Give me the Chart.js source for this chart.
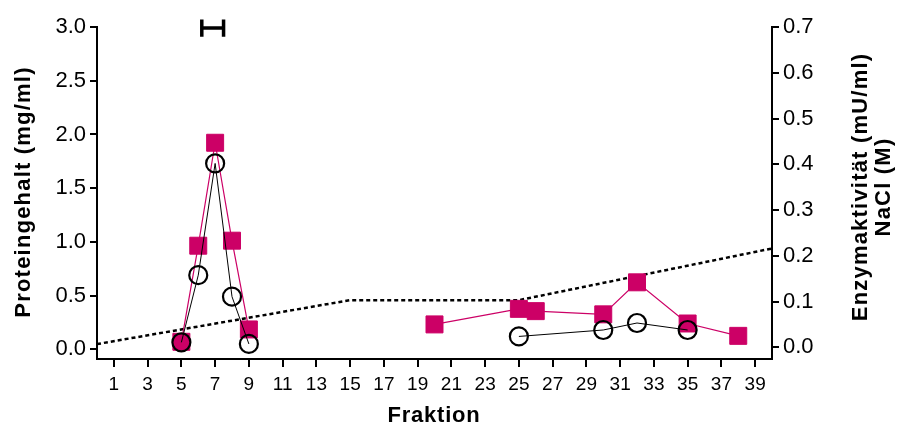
<!DOCTYPE html>
<html>
<head>
<meta charset="utf-8">
<script src="https://cdn.jsdelivr.net/npm/chart.js@4.4.1/dist/chart.umd.min.js"></script>
<style>
  body { margin: 0; background: #fff; }
  #wrap { width: 897px; height: 426px; position: relative; }
</style>
</head>
<body>
<div id="wrap"><canvas id="chart_fractions"></canvas></div>
<script>
// Data
const xTicks = [1, 3, 5, 7, 9, 11, 13, 15, 17, 19, 21, 23, 25, 27, 29, 31, 33, 35, 37, 39];
const leftTicks = [0, 0.5, 1.0, 1.5, 2.0, 2.5, 3.0];
const rightTicks = [0, 0.1, 0.2, 0.3, 0.4, 0.5, 0.6, 0.7];

// Protein content (open circles, left axis) - null = no line across the gap
const proteinFractions = [5, 6, 7, 8, 9, 17, 25, 30, 32, 35];
const proteinValues = [0.065, 0.69, 1.73, 0.49, 0.05, null, 0.12, 0.18, 0.245, 0.18];

// Enzyme activity (pink squares, right axis)
const enzymeFractions = [5, 6, 7, 8, 9, 14, 20, 25, 26, 30, 32, 35, 38];
const enzymeValues = [0.012, 0.222, 0.447, 0.233, 0.039, null, 0.050, 0.084, 0.079, 0.072, 0.142, 0.052, 0.025];

// NaCl gradient (dashed, right axis)
const naclFractions = [0, 15, 25, 40];
const naclValues = [0.007, 0.103, 0.103, 0.216];

// pooled fractions marker ("H" bar at the top, left axis)
const poolFractions = [6.21, 6.21, 6.21, 6.21, 7.5, 7.5, 7.5, 7.5];
const poolValues = [2.91, 3.07, null, 2.99, 2.99, null, 2.91, 3.07];

const leftTitle = 'Proteingehalt (mg/ml)';
const rightTitle = ['Enzymaktivität (mU/ml)', 'NaCl (M)'];
const xTitle = 'Fraktion';

const pink = 'rgb(204, 0, 102)';
const fontFamily = '"Liberation Sans", Arial, sans-serif';

function toPoints(xs, ys) {
    return xs.map((x, i) => ({ x: x, y: ys[i] }));
}

// axis titles drawn by hand (right title reads bottom-to-top, letter spaced)
const axisTitles = {
    id: 'axisTitles',
    afterDraw(chart) {
        const ctx = chart.ctx;
        ctx.save();
        ctx.fillStyle = '#000';
        ctx.font = 'bold 22px ' + fontFamily;
        ctx.textAlign = 'center';
        ctx.textBaseline = 'middle';
        ctx.letterSpacing = '1.2px';

        ctx.save();
        ctx.translate(24, 192);
        ctx.rotate(-Math.PI / 2);
        ctx.fillText(leftTitle, 0, 0);
        ctx.restore();

        ctx.save();
        ctx.translate(861, 187);
        ctx.rotate(-Math.PI / 2);
        ctx.fillText(rightTitle[0], 0, 0);
        ctx.fillText(rightTitle[1], 0, 23);
        ctx.restore();

        ctx.letterSpacing = '0.8px';
        ctx.textBaseline = 'alphabetic';
        ctx.fillText(xTitle, 434, 422);
        ctx.restore();
    }
};

const ctx = document.getElementById('chart_fractions').getContext('2d');
const myChart = new Chart(ctx, {
    type: 'line',
    data: {
        datasets: [
            {
                label: 'Protein',
                yAxisID: 'yL',
                order: 0,
                data: toPoints(proteinFractions, proteinValues),
                borderColor: '#000',
                borderWidth: 1,
                pointStyle: 'circle',
                pointRadius: 9,
                pointBorderWidth: 2.2,
                pointBorderColor: '#000',
                pointBackgroundColor: 'rgba(0,0,0,0)',
                spanGaps: false
            },
            {
                label: 'Enzym',
                yAxisID: 'yR',
                order: 1,
                data: toPoints(enzymeFractions, enzymeValues),
                borderColor: pink,
                borderWidth: 1.2,
                pointStyle: 'rect',
                pointRadius: 12,
                pointBorderWidth: 1,
                pointBorderColor: pink,
                pointBackgroundColor: pink,
                spanGaps: false
            },
            {
                label: 'NaCl',
                yAxisID: 'yR',
                order: 2,
                data: toPoints(naclFractions, naclValues),
                borderColor: '#000',
                borderWidth: 2.5,
                borderDash: [4, 3],
                pointRadius: 0
            },
            {
                label: 'Pool',
                yAxisID: 'yL',
                order: 3,
                data: toPoints(poolFractions, poolValues),
                borderColor: '#000',
                borderWidth: 3.5,
                pointRadius: 0,
                spanGaps: false,
                clip: false
            }
        ]
    },
    options: {
        responsive: true,
        maintainAspectRatio: false,
        animation: false,
        events: [],
        layout: {
            padding: { top: 27, left: 0, right: 0, bottom: 0 }
        },
        plugins: {
            legend: { display: false },
            tooltip: { enabled: false }
        },
        elements: {
            line: { tension: 0 }
        },
        scales: {
            x: {
                type: 'linear',
                position: 'bottom',
                min: 0,
                max: 40,
                afterBuildTicks: scale => { scale.ticks = xTicks.map(v => ({ value: v })); },
                afterFit: scale => { scale.height = 67; },
                border: { display: true, color: '#000', width: 2 },
                grid: { drawOnChartArea: false, drawTicks: true, tickLength: 8, color: '#000', lineWidth: 2 },
                ticks: {
                    color: '#000',
                    padding: 6,
                    maxRotation: 0,
                    autoSkip: false,
                    font: { family: fontFamily, size: 19 }
                }
            },
            yL: {
                type: 'linear',
                position: 'left',
                min: -0.09,
                max: 3.0,
                afterBuildTicks: scale => { scale.ticks = leftTicks.map(v => ({ value: v })); },
                afterFit: scale => { scale.width = 97; },
                border: { display: true, color: '#000', width: 2 },
                grid: { drawOnChartArea: false, drawTicks: true, tickLength: 7, color: '#000', lineWidth: 2 },
                ticks: {
                    color: '#000',
                    padding: 4,
                    font: { family: fontFamily, size: 22 },
                    callback: v => v.toFixed(1)
                }
            },
            yR: {
                type: 'linear',
                position: 'right',
                min: -0.0256,
                max: 0.7,
                afterBuildTicks: scale => { scale.ticks = rightTicks.map(v => ({ value: v })); },
                afterFit: scale => { scale.width = 125; },
                border: { display: true, color: '#000', width: 2 },
                grid: { drawOnChartArea: false, drawTicks: true, tickLength: 7, color: '#000', lineWidth: 2 },
                ticks: {
                    color: '#000',
                    padding: 4,
                    font: { family: fontFamily, size: 22 },
                    callback: v => v.toFixed(1)
                }
            }
        }
    },
    plugins: [axisTitles]
});
</script>
</body>
</html>
